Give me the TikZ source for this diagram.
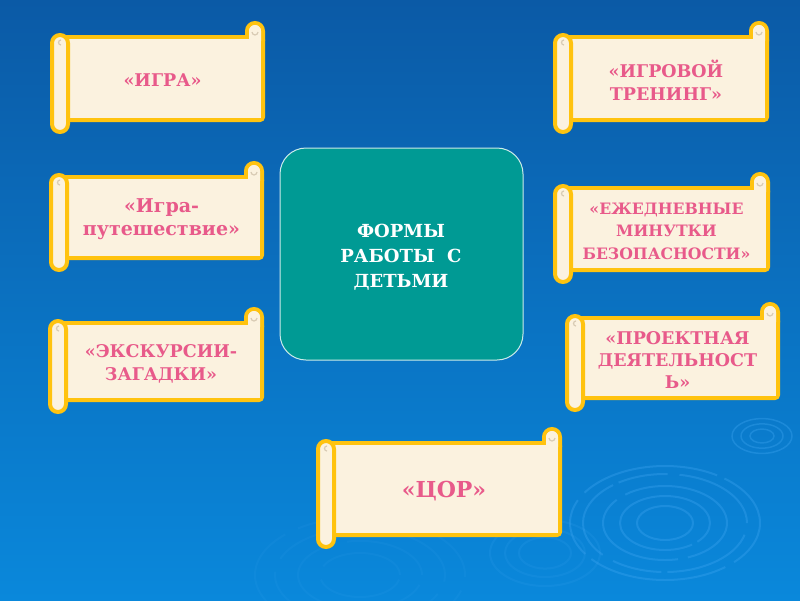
\documentclass[tikz,border=0pt]{standalone}
\usepackage{fontspec}
\setmainfont{DejaVu Serif}
\usetikzlibrary{calc}
\definecolor{bgtop}{HTML}{0B5AA6}
\definecolor{bgbot}{HTML}{0A88DB}
\definecolor{scrollyellow}{HTML}{FFC30F}
\definecolor{cream}{HTML}{FBF2DF}
\definecolor{pinktext}{HTML}{E85A8A}
\definecolor{tealbox}{HTML}{009A94}
\definecolor{ripple}{HTML}{3EA6F2}
\definecolor{curl}{HTML}{D8CBB4}
\tikzset{
  scrollline/.style={draw=scrollyellow, fill=cream, line width=4pt},
  scrolltext/.style={text=pinktext, font=\bfseries\fontsize{17.5}{23}\selectfont, align=center, inner sep=0pt},
  centerbox/.style={draw=white!80!tealbox, fill=tealbox, line width=1pt, rounded corners=26pt},
  centertext/.style={text=white, font=\bfseries\fontsize{18}{25}\selectfont, align=center, inner sep=0pt},
  ripplering/.style={draw=ripple, opacity=0.35, line width=2pt},
}
\newcommand{\myscroll}[7]{%
  \filldraw[scrollline, rounded corners=3pt] ({#2+8},#3) rectangle (#4,#5);
  \filldraw[scrollline, rounded corners=8pt] ({#4-16},{#3-14}) rectangle (#4,{#3+12});
  \fill[cream] ({#2+10},{#3+2}) rectangle ({#4-2},{#5-2});
  \fill[cream, rounded corners=6pt] ({#4-14},{#3-12}) rectangle ({#4-2},{#3+10});
  \draw[curl, line width=1.2pt] ({#4-11},{#3-5}) arc (180:360:3pt);
  \filldraw[scrollline, rounded corners=8pt] (#2,{#3-2}) rectangle ({#2+16},{#5+12});
  \draw[curl, line width=1.2pt] ({#2+9},{#3+3}) arc (90:270:2.5pt);
  \node[scrolltext, #6] (#1) at ({(#2+16+#4)/2-3},{(#3+#5)/2+2}) {#7};
}
\begin{document}
\begin{tikzpicture}[x=1pt,y=-1pt]
\useasboundingbox (0,0) rectangle (800,600);
\shade[top color=bgtop, bottom color=bgbot] (0,0) rectangle (800,600);
\begin{scope}
\clip (0,0) rectangle (800,600);
\draw[ripplering, dash pattern=on 60pt off 8pt on 140pt off 10pt] (665,523) ellipse (95pt and 57pt);
\draw[ripplering, dash pattern=on 90pt off 12pt on 50pt off 6pt] (665,523) ellipse (82pt and 49pt);
\draw[ripplering, dash pattern=on 120pt off 10pt] (665,523) ellipse (62pt and 37pt);
\draw[ripplering, dash pattern=on 200pt off 6pt] (665,523) ellipse (45pt and 27pt);
\draw[ripplering] (665,523) ellipse (28pt and 17pt);
\foreach \r in {30,21,12}{
  \draw[ripplering, line width=1.5pt] (762,436) ellipse ({\r pt} and {\r*0.58 pt});
}
\foreach \r in {55,40,26}{
  \draw[ripplering, opacity=0.15] (545,553) ellipse ({\r pt} and {\r*0.6 pt});
}
\foreach \r in {105,85,62,40}{
  \draw[ripplering, opacity=0.1, dash pattern=on 90pt off 14pt] (360,575) ellipse ({\r pt} and {\r*0.55 pt});
}
\end{scope}
\filldraw[centerbox] (280,148) rectangle (523,360);
\node[centertext] (center) at (401,257) {ФОРМЫ\\РАБОТЫ\ \ С\\ДЕТЬМИ};
\myscroll{igra}{52}{37}{263}{120}{}{«ИГРА»}
\myscroll{puteshestvie}{51}{177}{262}{258}{font=\bfseries\fontsize{19}{23}\selectfont}{«Игра-\\путешествие»}
\myscroll{ekskursii}{50}{323}{262}{400}{}{«ЭКСКУРСИИ-\\ЗАГАДКИ»}
\myscroll{trening}{555}{37}{767}{120}{}{«ИГРОВОЙ\\ТРЕНИНГ»}
\myscroll{minutki}{555}{188}{768}{270}{font=\bfseries\fontsize{15.7}{22.5}\selectfont}{«ЕЖЕДНЕВНЫЕ\\МИНУТКИ\\БЕЗОПАСНОСТИ»}
\myscroll{proekt}{567}{318}{778}{398}{font=\bfseries\fontsize{17.5}{22}\selectfont}{«ПРОЕКТНАЯ\\ДЕЯТЕЛЬНОСТ\\Ь»}
\myscroll{cor}{318}{443}{560}{535}{font=\bfseries\fontsize{22}{25}\selectfont}{«ЦОР»}
\end{tikzpicture}
\end{document}
